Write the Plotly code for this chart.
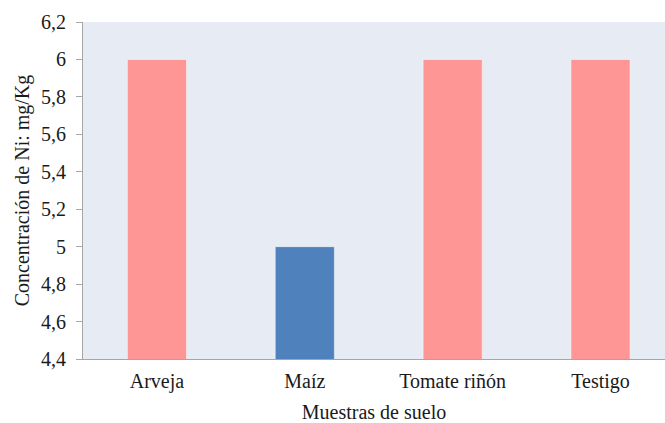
import plotly.graph_objects as go

# Ni concentration per soil sample
muestras = ["Arveja", "Maíz", "Tomate riñón", "Testigo"]
concentracion = [6.0, 5.0, 6.0, 6.0]
colores = ["#FF9696", "#4F81BD", "#FF9696", "#FF9696"]

y_ticks = [4.4, 4.6, 4.8, 5.0, 5.2, 5.4, 5.6, 5.8, 6.0, 6.2]
y_tick_labels = ["4,4", "4,6", "4,8", "5", "5,2", "5,4", "5,6", "5,8", "6", "6,2"]

font_family = "Liberation Serif"
text_font = dict(family=font_family, size=20, color="#1a1a1a")

fig = go.Figure(
    go.Bar(
        x=list(range(len(muestras))),
        y=concentracion,
        base=0,
        width=0.4,
        marker=dict(color=colores, line=dict(color="rgba(255,255,255,0.5)", width=1)),
    )
)

fig.update_layout(
    width=665,
    height=423,
    margin=dict(l=83, r=0, t=22, b=64),
    paper_bgcolor="white",
    plot_bgcolor="#E6EBF4",
    showlegend=False,
    font=text_font,
    xaxis=dict(
        range=[-0.5, 3.436],
        tickvals=list(range(len(muestras))),
        ticktext=muestras,
        showgrid=False,
        zeroline=False,
        showline=True,
        linecolor="#A6A6A6",
        linewidth=1,
        ticks="",
        ticklabelstandoff=4,
        tickfont=text_font,
        title=dict(text="Muestras de suelo", font=text_font, standoff=12),
    ),
    yaxis=dict(
        range=[4.4, 6.2],
        tickvals=y_ticks,
        ticktext=y_tick_labels,
        showgrid=False,
        zeroline=False,
        showline=True,
        linecolor="#A6A6A6",
        linewidth=1,
        ticks="outside",
        ticklen=6,
        tickcolor="#A6A6A6",
        ticklabelstandoff=6,
        tickfont=text_font,
        title=dict(text="Concentración de Ni: mg/Kg", font=text_font, standoff=6),
    ),
)

fig.write_html("out.html")
